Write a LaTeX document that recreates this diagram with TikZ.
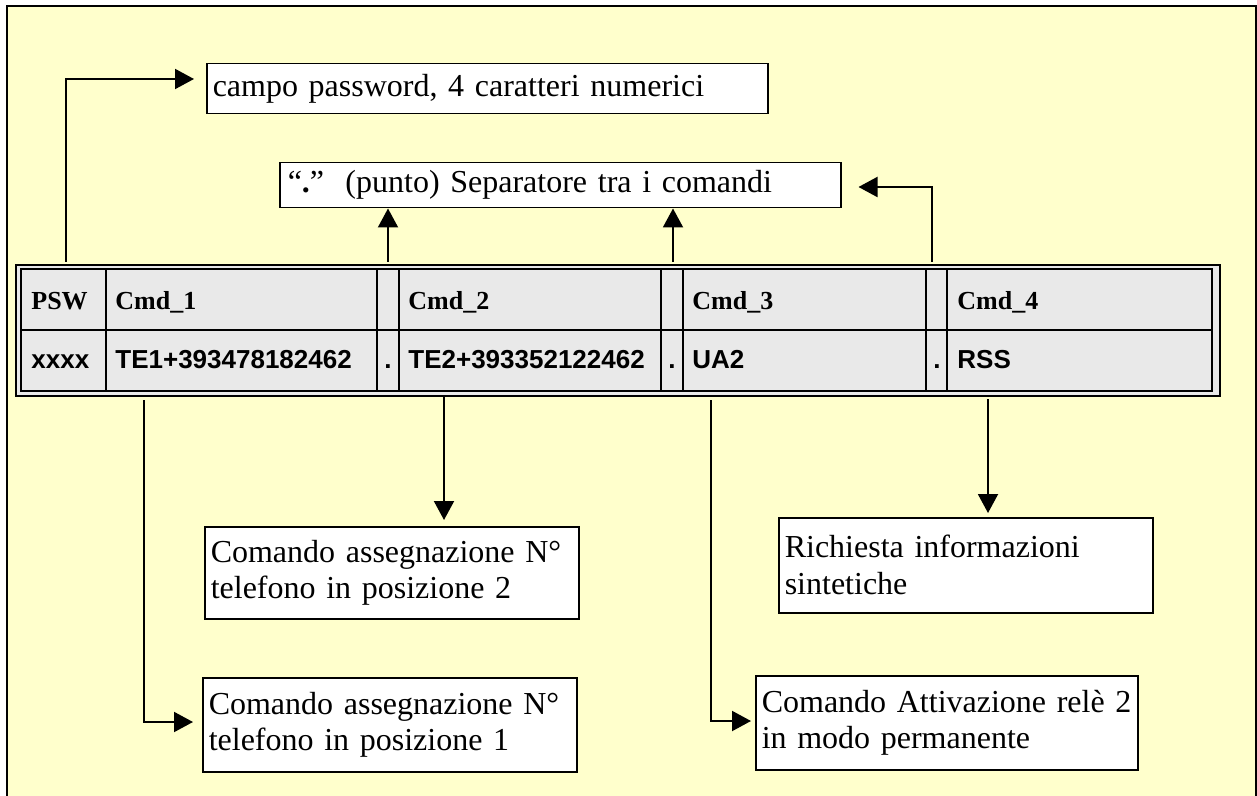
\documentclass[tikz,border=0pt]{standalone}
\usepackage{fontspec}
\setmainfont{Liberation Serif}
\newfontfamily\arialf{Liberation Sans}
\usetikzlibrary{arrows.meta}
\definecolor{bgyellow}{HTML}{FFFFCC}
\definecolor{cellgray}{HTML}{E9E9E9}
\begin{document}
\begin{tikzpicture}[x=0.5pt,y=-0.5pt,
  txtbox/.style={draw, line width=0.75pt, fill=white, anchor=north west, align=left,
    inner xsep=3pt, inner ysep=0pt, font=\fontsize{16}{18.4}\selectfont},
  hdr/.style={anchor=base west, inner sep=0pt, font=\fontsize{13}{15}\selectfont\bfseries},
  dat/.style={anchor=base west, inner sep=0pt, font=\arialf\fontsize{13}{15}\selectfont\bfseries},
  arr/.style={line width=1pt, -{Triangle[length=9.5pt,width=10pt]}},
  tline/.style={line width=1pt}]
\useasboundingbox (0,0) rectangle (1257,796);
\fill[white] (0,0) rectangle (1257,796);
\draw[fill=bgyellow, line width=0.75pt] (7,6) rectangle (1256,812);

% table
\draw[tline, fill=cellgray] (16,265) rectangle (1220,396);
\draw[tline] (21,269) rectangle (1212,391);
\draw[tline] (21,330) -- (1212,330);
\foreach \x in {106,377,399,661,683,926,947} \draw[tline] (\x,269) -- (\x,391);

\node[hdr] (h0) at (31,310) {PSW};
\node[hdr] (h1) at (115,310) {Cmd\_1};
\node[hdr] (h2) at (408,310) {Cmd\_2};
\node[hdr] (h3) at (692,310) {Cmd\_3};
\node[hdr] (h4) at (957,310) {Cmd\_4};
\node[dat] (d0) at (31,369) {xxxx};
\node[dat] (d1) at (115,369) {TE1+393478182462};
\node[dat] (d2) at (408,369) {TE2+393352122462};
\node[dat] (d3) at (692,369) {UA2};
\node[dat] (d4) at (957,369) {RSS};
\node[dat, anchor=base] (s1) at (388,369) {.};
\node[dat, anchor=base] (s2) at (672,369) {.};
\node[dat, anchor=base] (s3) at (937,369) {.};

% text boxes
\node[txtbox, text width=274.5pt, minimum height=25pt] (campo) at (206,63)
  {campo password, 4 caratteri numerici};
\node[txtbox, text width=272.5pt, inner xsep=4pt, minimum height=22.5pt] (sep) at (279,162)
  {“\textbf{.}”\ \ (punto) Separatore tra i comandi};
\node[txtbox, text width=181pt, minimum height=46pt] (cmdtwo) at (204,526)
  {Comando assegnazione N°\\telefono in posizione 2};
\node[txtbox, text width=181pt, minimum height=47.5pt] (rich) at (778,517)
  {Richiesta informazioni\\sintetiche};
\node[txtbox, text width=181pt, minimum height=47pt] (cmdone) at (202,677)
  {Comando assegnazione N°\\telefono in posizione 1};
\node[txtbox, text width=185pt, minimum height=47pt] (cmdthree) at (755,675)
  {\mbox{Comando Attivazione relè 2}\\in modo permanente};

% anchor points on the table
\coordinate (pT) at (66,262);
\coordinate (s1T) at (388,262);
\coordinate (s2T) at (673,262);
\coordinate (s3T) at (932,262);
\coordinate (c1B) at (144,400);
\coordinate (c2B) at (444,396);
\coordinate (c3B) at (711,400);
\coordinate (c4B) at (988,399);

% connectors
\draw[arr, shorten >=6pt] (pT) |- (campo.west |- 0,79);
\draw[arr] (s1T) -- (s1T |- sep.south);
\draw[arr] (s2T) -- (s2T |- sep.south);
\draw[arr, shorten >=8.5pt] (s3T) |- (sep.east |- 0,187);
\draw[arr, shorten >=4.5pt] (c1B) |- (cmdone.west |- 0,722);
\draw[arr, shorten >=3pt] (c2B) -- (c2B |- cmdtwo.north);
\draw[arr, shorten >=2pt] (c3B) |- (cmdthree.west |- 0,721);
\draw[arr, shorten >=2pt] (c4B) -- (c4B |- rich.north);
\end{tikzpicture}
\end{document}
